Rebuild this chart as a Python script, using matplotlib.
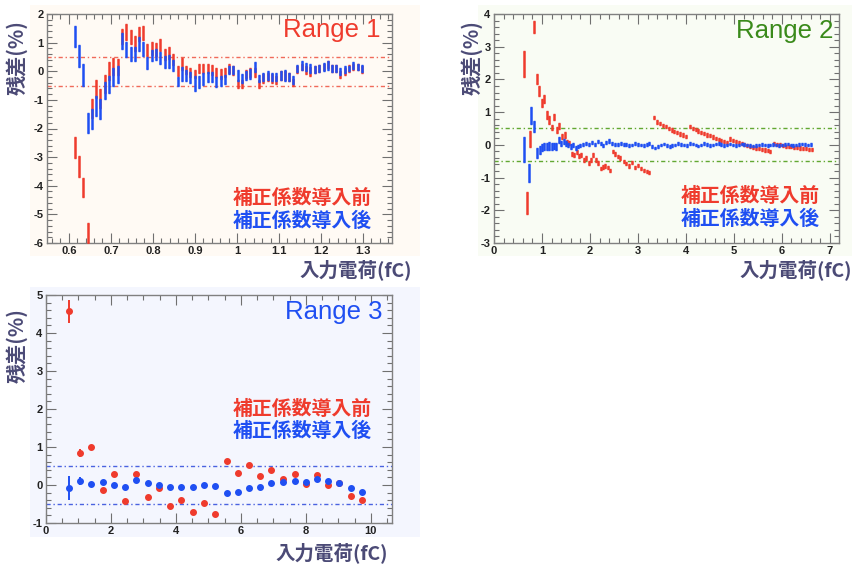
import matplotlib

matplotlib.use("Agg", force=True)

import matplotlib.pyplot as plt
from matplotlib.patches import Rectangle
from matplotlib.ticker import MultipleLocator, FuncFormatter

W, H = 853, 566
RED = "#ef3b2d"
BLUE = "#1f4ff2"
GREEN = "#3a8a1a"
LABEL = "#4b4a76"
CJK = ["Noto Sans CJK JP", "DejaVu Sans"]
LATIN = ["Liberation Sans", "DejaVu Sans"]

# ---- Range 1 ------------------------------------------------------------
r1_x = [0.614, 0.624, 0.634, 0.645, 0.655, 0.665, 0.675, 0.685, 0.696, 0.706,
        0.716, 0.726, 0.736, 0.747, 0.757, 0.767, 0.777, 0.787, 0.798, 0.808,
        0.818, 0.828, 0.838, 0.849, 0.859, 0.869, 0.879, 0.889, 0.900, 0.910,
        0.920, 0.930, 0.940, 0.951, 0.961, 0.971, 0.981, 0.991, 1.002, 1.012,
        1.022, 1.032, 1.042, 1.053, 1.063, 1.073, 1.083, 1.093, 1.104, 1.114,
        1.124, 1.134, 1.144, 1.155, 1.165, 1.175, 1.185, 1.195, 1.206, 1.216,
        1.226, 1.236, 1.246, 1.257, 1.267, 1.277, 1.287, 1.297]
r1_before = [-2.67, -3.32, -4.07, -5.65, -1.30, -0.62, -0.95, -0.45, 0.02, 0.17,
             0.15, 1.22, 1.37, 1.20, 0.97, 1.30, 1.33, 0.74, 0.80, 0.77,
             0.92, 0.58, 0.63, 0.42, 0.00, 0.26, 0.05, -0.05, -0.10, 0.10,
             0.10, 0.10, 0.05, -0.05, -0.10, -0.05, 0.10, 0.02, -0.45, -0.45,
             -0.10, -0.05, -0.05, -0.45, -0.25, -0.20, -0.25, -0.30, -0.15, -0.15,
             -0.20, -0.40, 0.05, 0.15, 0.05, 0.00, 0.05, 0.10, 0.15, 0.25,
             0.10, 0.10, -0.10, 0.00, 0.10, 0.15, 0.15, 0.05]
r1_before_err = [0.36, 0.36, 0.34, 0.36, 0.33, 0.33, 0.33, 0.32, 0.32, 0.30,
                 0.28, 0.27, 0.27, 0.25, 0.25, 0.25, 0.25, 0.22, 0.22, 0.22,
                 0.22, 0.20, 0.20, 0.20, 0.18, 0.20, 0.15, 0.15, 0.15, 0.15,
                 0.15, 0.15, 0.17, 0.15, 0.17, 0.15, 0.15, 0.15, 0.13, 0.13,
                 0.15, 0.15, 0.15, 0.15, 0.15, 0.15, 0.15, 0.13, 0.15, 0.15,
                 0.15, 0.12, 0.12, 0.12, 0.15, 0.15, 0.12, 0.12, 0.12, 0.12,
                 0.12, 0.12, 0.12, 0.12, 0.12, 0.12, 0.12, 0.12]
r1_after = [1.21, 0.52, -0.12, -1.80, -1.68, -1.21, -1.33, -0.68, -0.45, -0.20,
            -0.10, 1.05, 0.76, 0.60, 0.60, 0.96, 0.79, 0.29, 0.55, 0.58,
            0.46, 0.32, 0.35, 0.20, -0.36, -0.10, -0.15, -0.22, -0.43, -0.38,
            -0.27, -0.20, -0.20, -0.38, -0.33, -0.30, 0.05, 0.05, -0.15, -0.25,
            -0.15, -0.10, 0.15, -0.25, -0.20, -0.15, -0.20, -0.20, -0.15, -0.15,
            -0.20, -0.30, 0.10, 0.20, 0.15, 0.10, 0.05, 0.10, 0.15, 0.20,
            0.10, 0.10, 0.00, 0.05, 0.10, 0.20, 0.15, 0.10]
r1_after_err = [0.37, 0.38, 0.38, 0.35, 0.35, 0.35, 0.35, 0.30, 0.30, 0.30,
                0.30, 0.27, 0.27, 0.25, 0.25, 0.24, 0.24, 0.22, 0.20, 0.20,
                0.20, 0.22, 0.22, 0.20, 0.16, 0.25, 0.20, 0.20, 0.25, 0.20,
                0.20, 0.18, 0.16, 0.18, 0.18, 0.16, 0.15, 0.15, 0.18, 0.16,
                0.15, 0.18, 0.18, 0.13, 0.15, 0.15, 0.15, 0.15, 0.15, 0.18,
                0.15, 0.15, 0.12, 0.15, 0.15, 0.15, 0.12, 0.12, 0.15, 0.15,
                0.12, 0.12, 0.12, 0.12, 0.10, 0.12, 0.12, 0.12]

# ---- Range 2 ------------------------------------------------------------
r2_before_x = [0.63, 0.68, 0.74, 0.84, 0.90, 0.94, 1.00, 1.05, 1.10, 1.15,
               1.20, 1.26, 1.31, 1.36, 1.42, 1.47, 1.52, 1.57, 1.62, 1.67,
               1.72, 1.77, 1.82, 1.87, 1.92, 1.97, 2.02, 2.07, 2.12, 2.17,
               2.22, 2.27, 2.32, 2.37, 2.42, 2.48, 2.53, 2.58, 2.63, 2.70,
               2.76, 2.82, 2.88, 2.94, 3.00, 3.06, 3.12, 3.18, 3.24, 3.34,
               3.40, 3.46, 3.52, 3.58, 3.64, 3.70, 3.76, 3.82, 3.88, 3.94,
               4.00, 4.08, 4.14, 4.20, 4.26, 4.32, 4.38, 4.44, 4.50, 4.56,
               4.62, 4.68, 4.74, 4.80, 4.86, 4.92, 4.98, 5.04, 5.10, 5.16,
               5.22, 5.28, 5.34, 5.40, 5.46, 5.52, 5.58, 5.64, 5.70, 5.76,
               5.84, 5.90, 5.96, 6.02, 6.08, 6.14, 6.20, 6.26, 6.32, 6.38,
               6.44, 6.50, 6.56, 6.62]
r2_before = [2.48, -1.78, 0.18, 3.60, 2.02, 1.65, 1.28, 1.40, 0.92, 0.77,
             0.52, 0.85, 0.45, 0.58, 0.26, 0.30, 0.10, 0.05, -0.28, -0.32,
             -0.22, -0.35, -0.30, -0.45, -0.40, -0.55, -0.45, -0.30, -0.45, -0.55,
             -0.72, -0.68, -0.65, -0.70, -0.78, -0.20, -0.28, -0.35, -0.40, -0.50,
             -0.58, -0.65, -0.55, -0.70, -0.62, -0.72, -0.78, -0.82, -0.85, 0.84,
             0.70, 0.65, 0.60, 0.55, 0.50, 0.45, 0.40, 0.38, 0.33, 0.30,
             0.25, 0.55, 0.50, 0.46, 0.42, 0.38, 0.35, 0.30, 0.28, 0.24,
             0.20, 0.17, 0.14, 0.10, 0.08, 0.18, 0.14, 0.10, 0.08, 0.04,
             0.00, -0.03, -0.06, -0.08, -0.10, -0.12, -0.14, -0.16, -0.18, -0.20,
             0.05, 0.02, 0.00, -0.02, -0.04, -0.05, -0.06, -0.08, -0.09, -0.10,
             -0.11, -0.12, -0.14, -0.15]
r2_before_err = [0.40, 0.33, 0.25, 0.18, 0.16, 0.15, 0.13, 0.12, 0.12, 0.12,
                 0.08, 0.10, 0.10, 0.08, 0.08, 0.08, 0.06, 0.06, 0.07, 0.06,
                 0.06, 0.06, 0.06, 0.06, 0.06, 0.06, 0.06, 0.06, 0.06, 0.06,
                 0.05, 0.05, 0.05, 0.05, 0.05, 0.05, 0.05, 0.05, 0.05, 0.05,
                 0.05, 0.05, 0.05, 0.05, 0.05, 0.05, 0.05, 0.05, 0.05, 0.05,
                 0.05, 0.05, 0.05, 0.05, 0.05, 0.05, 0.05, 0.05, 0.05, 0.05,
                 0.05, 0.05, 0.05, 0.05, 0.05, 0.05, 0.05, 0.05, 0.05, 0.05,
                 0.05, 0.05, 0.05, 0.05, 0.05, 0.05, 0.05, 0.05, 0.05, 0.05,
                 0.05, 0.05, 0.05, 0.05, 0.05, 0.05, 0.05, 0.05, 0.05, 0.05,
                 0.05, 0.05, 0.05, 0.05, 0.05, 0.05, 0.05, 0.05, 0.05, 0.05,
                 0.05, 0.05, 0.05, 0.05]
r2_after_x = [0.63, 0.73, 0.77, 0.83, 0.90, 0.95, 1.00, 1.05, 1.10, 1.15,
              1.20, 1.25, 1.30, 1.35, 1.40, 1.45, 1.50, 1.55, 1.60, 1.65,
              1.70, 1.75, 1.80, 1.86, 1.92, 1.98, 2.04, 2.10, 2.16, 2.22,
              2.28, 2.34, 2.40, 2.46, 2.52, 2.58, 2.64, 2.70, 2.76, 2.82,
              2.88, 2.94, 3.00, 3.06, 3.12, 3.18, 3.24, 3.30, 3.36, 3.42,
              3.48, 3.54, 3.60, 3.66, 3.72, 3.78, 3.84, 3.90, 3.96, 4.02,
              4.08, 4.14, 4.20, 4.26, 4.32, 4.38, 4.44, 4.50, 4.56, 4.62,
              4.68, 4.74, 4.80, 4.86, 4.92, 4.98, 5.04, 5.10, 5.16, 5.22,
              5.28, 5.34, 5.40, 5.46, 5.52, 5.58, 5.64, 5.70, 5.76, 5.82,
              5.88, 5.94, 6.00, 6.06, 6.12, 6.18, 6.24, 6.30, 6.36, 6.42,
              6.48, 6.54, 6.60]
r2_after = [-0.15, -0.86, 0.90, 0.56, -0.25, -0.15, -0.08, -0.05, -0.05, -0.04,
            -0.05, -0.03, -0.05, 0.15, 0.05, 0.10, 0.05, 0.00, -0.05, 0.00,
            -0.10, -0.05, -0.02, 0.02, 0.05, 0.00, 0.08, 0.02, 0.10, 0.05,
            -0.02, 0.08, 0.12, 0.05, 0.00, 0.02, 0.05, 0.00, 0.02, -0.03,
            0.00, 0.05, 0.02, 0.00, -0.02, 0.02, 0.05, -0.05, -0.10, -0.05,
            0.00, 0.03, -0.02, -0.05, -0.02, 0.00, 0.05, 0.02, 0.00, -0.02,
            0.05, 0.03, 0.00, -0.03, 0.00, 0.04, 0.02, -0.02, 0.00, 0.03,
            0.05, 0.02, -0.02, 0.00, 0.03, 0.00, -0.02, 0.00, 0.03, 0.02,
            0.00, -0.02, -0.04, -0.02, 0.00, 0.02, 0.00, -0.02, 0.00, 0.02,
            0.00, -0.02, 0.00, 0.02, 0.03, 0.00, -0.02, 0.00, 0.02, 0.03,
            0.02, 0.00, 0.02]
r2_after_err = [0.38, 0.29, 0.25, 0.18, 0.15, 0.12, 0.12, 0.12, 0.12, 0.12,
                0.10, 0.10, 0.10, 0.10, 0.08, 0.08, 0.08, 0.07, 0.07, 0.07,
                0.06, 0.06, 0.06, 0.05, 0.05, 0.05, 0.05, 0.05, 0.05, 0.05,
                0.05, 0.05, 0.05, 0.05, 0.05, 0.05, 0.05, 0.05, 0.05, 0.05,
                0.04, 0.04, 0.04, 0.04, 0.04, 0.04, 0.04, 0.04, 0.04, 0.04,
                0.04, 0.04, 0.04, 0.04, 0.04, 0.04, 0.04, 0.04, 0.04, 0.04,
                0.04, 0.04, 0.04, 0.04, 0.04, 0.04, 0.04, 0.04, 0.04, 0.04,
                0.04, 0.04, 0.04, 0.04, 0.04, 0.04, 0.04, 0.04, 0.04, 0.04,
                0.04, 0.04, 0.04, 0.04, 0.04, 0.04, 0.04, 0.04, 0.04, 0.04,
                0.04, 0.04, 0.04, 0.04, 0.04, 0.04, 0.04, 0.04, 0.04, 0.04,
                0.04, 0.04, 0.04]

# ---- Range 3 ------------------------------------------------------------
r3_x = [0.71, 1.05, 1.38, 1.74, 2.09, 2.44, 2.78, 3.13, 3.48, 3.82,
        4.17, 4.51, 4.86, 5.21, 5.56, 5.92, 6.26, 6.60, 6.94, 7.30,
        7.65, 8.00, 8.34, 8.68, 9.03, 9.38, 9.72]
r3_before = [4.57, 0.84, 0.99, -0.12, 0.30, -0.42, 0.30, -0.32, -0.08, -0.54,
             -0.40, -0.72, -0.47, -0.77, 0.63, 0.32, 0.52, 0.25, 0.39, 0.16,
             0.28, 0.03, 0.26, -0.01, 0.05, -0.30, -0.39]
r3_before_err = [0.30, 0.10, 0.06, 0.03, 0.03, 0.03, 0.03, 0.03, 0.03, 0.03,
                 0.03, 0.03, 0.03, 0.03, 0.03, 0.03, 0.03, 0.03, 0.03, 0.03,
                 0.03, 0.03, 0.03, 0.03, 0.03, 0.03, 0.03]
r3_after = [-0.08, 0.10, 0.03, 0.07, -0.01, -0.04, 0.13, 0.05, -0.01, -0.06,
            -0.06, -0.04, -0.01, -0.02, -0.21, -0.18, -0.09, -0.05, 0.05, 0.08,
            0.10, 0.09, 0.17, 0.10, 0.04, -0.08, -0.19]
r3_after_err = [0.31, 0.10, 0.06, 0.03, 0.03, 0.03, 0.03, 0.03, 0.03, 0.03,
                0.03, 0.03, 0.03, 0.03, 0.03, 0.03, 0.03, 0.03, 0.03, 0.03,
                0.03, 0.03, 0.03, 0.03, 0.03, 0.03, 0.03]

LEGEND_BEFORE = "補正係数導入前"
LEGEND_AFTER = "補正係数導入後"
XLABEL = "入力電荷(fC)"
YLABEL = "残差(%)"


def fx(px):
    return px / W


def fy(py):
    return 1 - py / H


def panel(fig, box, bg, frame):
    """box/frame are (left, top, right, bottom) in pixels."""
    l, t, r, b = frame
    fig.patches.append(Rectangle((fx(l), fy(b)), (r - l) / W, (b - t) / H,
                                 transform=fig.transFigure, facecolor=bg,
                                 edgecolor="none", zorder=-5))
    l, t, r, b = box
    ax = fig.add_axes([fx(l), fy(b), (r - l) / W, (b - t) / H])
    ax.set_zorder(2)
    ax.set_facecolor(bg)
    for s in ax.spines.values():
        s.set_color("#808080")
        s.set_linewidth(1.0)
    ax.tick_params(which="both", direction="in", top=True, right=True,
                   color="#707070", width=0.8, labelsize=8, pad=2.5,
                   labelcolor="#222222")
    ax.tick_params(which="major", length=7)
    ax.tick_params(which="minor", length=3.5)
    ax.xaxis.set_major_formatter(FuncFormatter(lambda v, p: f"{v:g}"))
    ax.yaxis.set_major_formatter(FuncFormatter(lambda v, p: f"{v:g}"))
    return ax


def style_ticklabels(ax):
    for lab in ax.get_xticklabels() + ax.get_yticklabels():
        lab.set_fontweight("bold")
        lab.set_family(LATIN)


def ref_lines(ax, color):
    for y in (0.5, -0.5):
        ax.axhline(y, color=color, lw=1.0, ls=(0, (3, 2, 1, 2)), zorder=1)


fig = plt.figure(figsize=(W / 100, H / 100), dpi=100, facecolor="white")

# Range 1
ax1 = panel(fig, (47, 14, 392, 243), "#fffaf4", (30, 5, 420, 256))
ax1.set_xlim(0.548, 1.369)
ax1.set_ylim(-6, 2)
ax1.xaxis.set_major_locator(MultipleLocator(0.1))
ax1.xaxis.set_minor_locator(MultipleLocator(0.02))
ax1.yaxis.set_major_locator(MultipleLocator(1))
ax1.yaxis.set_minor_locator(MultipleLocator(0.2))
ref_lines(ax1, "#f06a5a")
ax1.errorbar(r1_x, r1_before, yerr=r1_before_err, fmt="none", ecolor=RED,
             elinewidth=1.8, capsize=1.0, capthick=1.0, zorder=3)
ax1.errorbar(r1_x, r1_after, yerr=r1_after_err, fmt="none", ecolor=BLUE,
             elinewidth=1.8, capsize=1.0, capthick=1.0, zorder=4)
style_ticklabels(ax1)

# Range 2
ax2 = panel(fig, (494, 14, 839, 243), "#f9fcf4", (478, 5, 853, 256))
ax2.set_xlim(0, 7.19)
ax2.set_ylim(-3, 4)
ax2.xaxis.set_major_locator(MultipleLocator(1))
ax2.xaxis.set_minor_locator(MultipleLocator(0.2))
ax2.yaxis.set_major_locator(MultipleLocator(1))
ax2.yaxis.set_minor_locator(MultipleLocator(0.2))
ref_lines(ax2, "#62a832")
ax2.errorbar(r2_before_x, r2_before, yerr=r2_before_err, fmt="none",
             ecolor=RED, elinewidth=1.8, capsize=0.8, capthick=1.0, zorder=3)
ax2.errorbar(r2_after_x, r2_after, yerr=r2_after_err, fmt="none",
             ecolor=BLUE, elinewidth=1.8, capsize=0.8, capthick=1.0, zorder=4)
style_ticklabels(ax2)

# Range 3
ax3 = panel(fig, (46, 295, 392, 523), "#f4f6fe", (30, 287, 420, 537))
ax3.set_xlim(0, 10.65)
ax3.set_ylim(-1, 5)
ax3.xaxis.set_major_locator(MultipleLocator(2))
ax3.xaxis.set_minor_locator(MultipleLocator(0.5))
ax3.yaxis.set_major_locator(MultipleLocator(1))
ax3.yaxis.set_minor_locator(MultipleLocator(0.2))
ref_lines(ax3, "#4a62e0")
ax3.errorbar(r3_x, r3_before, yerr=r3_before_err, fmt="o", color=RED,
             ms=4, elinewidth=1.4, capsize=0, zorder=3)
ax3.errorbar(r3_x, r3_after, yerr=r3_after_err, fmt="o", color=BLUE,
             ms=4, elinewidth=1.4, capsize=0, zorder=4)
style_ticklabels(ax3)

# titles, legends and axis labels
for (xr, yc, txt, col) in [(381, 30, "Range 1", "#ef3b2d"),
                           (833, 31, "Range 2", GREEN),
                           (383, 312, "Range 3", BLUE)]:
    fig.text(fx(xr), fy(yc), txt, color=col, fontsize=18.5, family=LATIN,
             ha="right", va="center", zorder=5)

for (xr, y1, y2) in [(372, 197, 220), (820, 195, 218), (372, 408, 430)]:
    fig.text(fx(xr), fy(y1), LEGEND_BEFORE, color=RED, fontsize=14.3,
             family=CJK, weight="bold", ha="right", va="center", zorder=5)
    fig.text(fx(xr), fy(y2), LEGEND_AFTER, color=BLUE, fontsize=14.3,
             family=CJK, weight="bold", ha="right", va="center", zorder=5)

for (xr, yc) in [(412, 270), (852, 270), (388, 553)]:
    fig.text(fx(xr), fy(yc), XLABEL, color=LABEL, fontsize=14, family=CJK,
             weight="bold", ha="right", va="center")

for (xc, yc) in [(17, 58), (472, 58), (17, 346)]:
    fig.text(fx(xc), fy(yc), YLABEL, color=LABEL, fontsize=14.5, family=CJK,
             weight="bold", ha="center", va="center", rotation=90)

fig.savefig("out.png", dpi=100, facecolor="white")
